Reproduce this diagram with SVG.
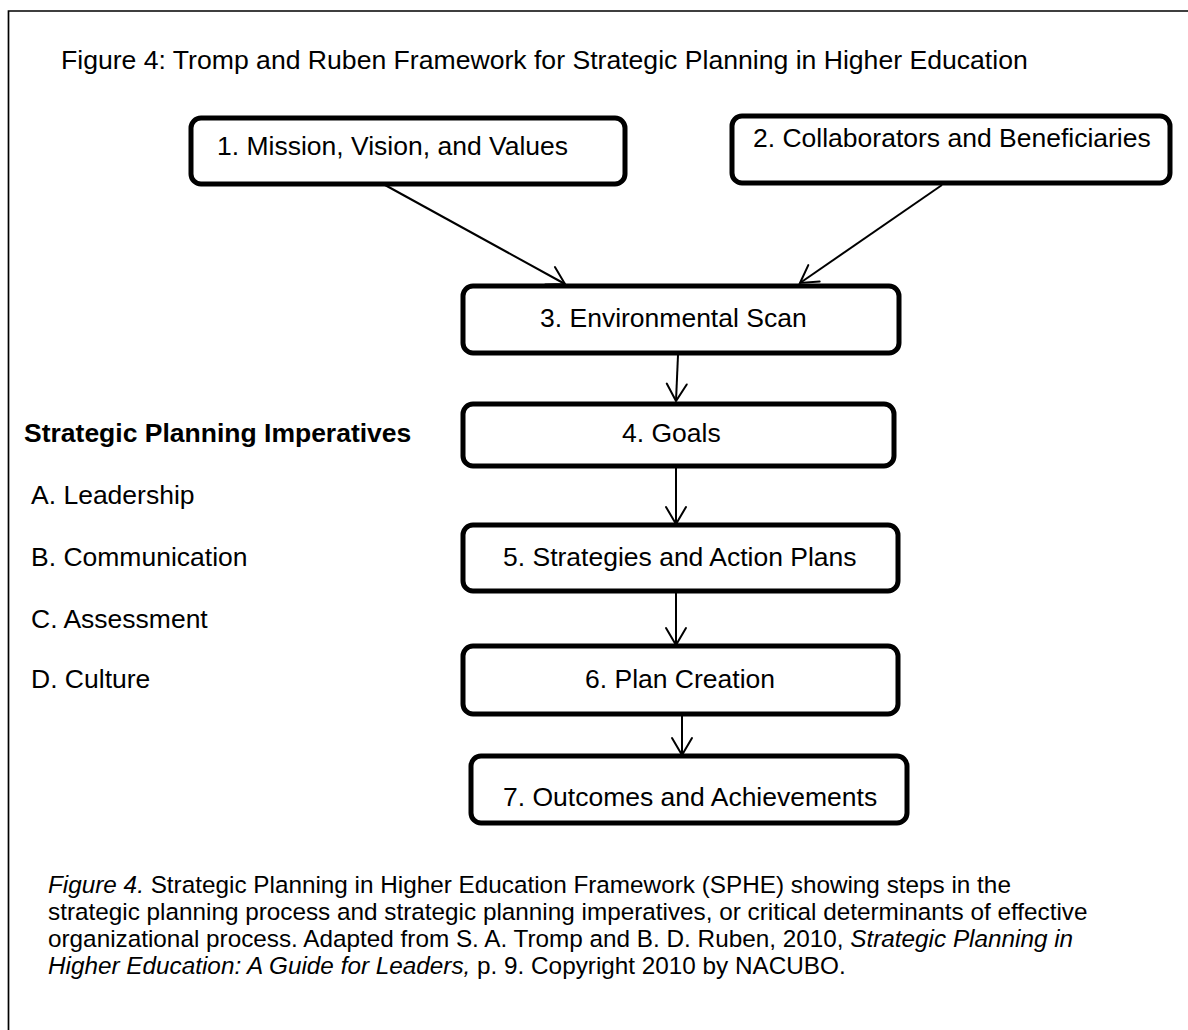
<svg xmlns="http://www.w3.org/2000/svg" width="1188" height="1030" viewBox="0 0 1188 1030">
  <style>
    text { font-family: "Liberation Sans", Arial, sans-serif; fill: #000; }
    .title { font-size: 26.6px; }
    .label { font-size: 26.5px; }
    .side { font-size: 26.5px; }
    .side-head { font-size: 26.5px; font-weight: bold; }
    .caption { font-size: 24.3px; }
    .box { fill: #fff; stroke: #000; stroke-width: 5; }
    .edge { fill: none; stroke: #000; stroke-width: 2; marker-end: url(#open-arrow); }
    .frame { fill: none; stroke: #000; stroke-width: 1.7; }
  </style>
  <defs>
    <marker id="open-arrow" markerUnits="userSpaceOnUse" markerWidth="24" markerHeight="24" viewBox="-20 -12 22 24" refX="0" refY="0" orient="auto">
      <path d="M-17,-10 L0,0 L-17,10" fill="none" stroke="#000" stroke-width="2" stroke-linecap="round" stroke-linejoin="miter"/>
    </marker>
  </defs>

  <rect width="1188" height="1030" fill="#fff"/>

  <!-- outer frame: left and top sides only -->
  <path class="frame" d="M8.5,1030 V11 H1188"/>

  <text class="title" x="61" y="69">Figure 4: Tromp and Ruben Framework for Strategic Planning in Higher Education</text>

  <!-- connectors -->
  <g id="connectors">
    <line class="edge" x1="385" y1="185" x2="565" y2="284"/>
    <line class="edge" x1="942" y1="185" x2="800" y2="283"/>
    <line class="edge" x1="678" y1="355" x2="676" y2="401"/>
    <line class="edge" x1="676" y1="468" x2="676" y2="524"/>
    <line class="edge" x1="676" y1="593" x2="676" y2="645"/>
    <line class="edge" x1="682" y1="709" x2="682" y2="755"/>
  </g>

  <!-- process steps -->
  <g id="step1">
    <rect class="box" x="191" y="118" width="434" height="66" rx="10"/>
    <text class="label" x="217" y="155">1. Mission, Vision, and Values</text>
  </g>
  <g id="step2">
    <rect class="box" x="732" y="116" width="438" height="67" rx="10"/>
    <text class="label" x="753" y="147">2. Collaborators and Beneficiaries</text>
  </g>
  <g id="step3">
    <rect class="box" x="463" y="286" width="436" height="67" rx="10"/>
    <text class="label" x="540" y="327">3. Environmental Scan</text>
  </g>
  <g id="step4">
    <rect class="box" x="463" y="404" width="431" height="62" rx="10"/>
    <text class="label" x="622" y="442">4. Goals</text>
  </g>
  <g id="step5">
    <rect class="box" x="463" y="525" width="435" height="66" rx="10"/>
    <text class="label" x="503" y="566">5. Strategies and Action Plans</text>
  </g>
  <g id="step6">
    <rect class="box" x="463" y="646" width="435" height="68" rx="10"/>
    <text class="label" x="585" y="688">6. Plan Creation</text>
  </g>
  <g id="step7">
    <rect class="box" x="471" y="756" width="436" height="67" rx="10"/>
    <text class="label" x="503" y="806">7. Outcomes and Achievements</text>
  </g>

  <!-- imperatives list -->
  <g id="imperatives">
    <text class="side-head" x="24" y="442">Strategic Planning Imperatives</text>
    <text class="side" x="31" y="504">A. Leadership</text>
    <text class="side" x="31" y="566">B. Communication</text>
    <text class="side" x="31" y="628">C. Assessment</text>
    <text class="side" x="31" y="688">D. Culture</text>
  </g>

  <!-- caption -->
  <g id="caption" class="caption">
    <text class="caption" x="48" y="893"><tspan font-style="italic">Figure 4.</tspan> Strategic Planning in Higher Education Framework (SPHE) showing steps in the</text>
    <text class="caption" x="48" y="920">strategic planning process and strategic planning imperatives, or critical determinants of effective</text>
    <text class="caption" x="48" y="947">organizational process. Adapted from S. A. Tromp and B. D. Ruben, 2010, <tspan font-style="italic">Strategic Planning in</tspan></text>
    <text class="caption" x="48" y="974"><tspan font-style="italic">Higher Education: A Guide for Leaders,</tspan> p. 9. Copyright 2010 by NACUBO.</text>
  </g>
</svg>
